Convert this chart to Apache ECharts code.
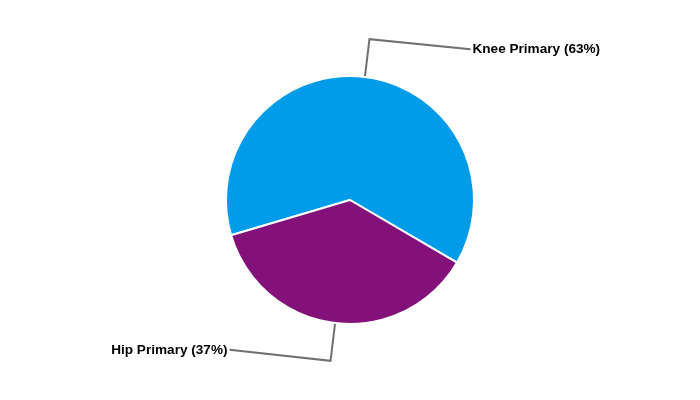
<!DOCTYPE html>
<html>
<head>
<meta charset="utf-8">
<script src="https://cdn.jsdelivr.net/npm/echarts@6/dist/echarts.min.js"></script>
<style>html,body{margin:0;padding:0;background:#fff}#c{width:700px;height:400px}</style>
</head>
<body>
<div id="c"></div>
<script>
const categories = ['Knee Primary', 'Hip Primary'];
const values = [63, 37];
const colors = ['#009CEA', '#84107A'];

const chart = echarts.init(document.getElementById('c'), null, {renderer: 'canvas'});
chart.setOption({
  animation: false,
  backgroundColor: '#ffffff',
  series: [{
    type: 'pie',
    center: [350, 200],
    radius: [0, 124],
    startAngle: 196.5,
    clockwise: true,
    data: categories.map((n, i) => ({name: n, value: values[i], itemStyle: {color: colors[i]}})),
    itemStyle: {borderColor: '#ffffff', borderWidth: 2},
    label: {
      show: true,
      formatter: '{b} ({d}%)',
      color: '#000',
      fontFamily: 'Liberation Sans, Arial, sans-serif',
      fontWeight: 'bold',
      fontSize: 13.6,
      distanceToLabelLine: 2
    },
    labelLine: {
      show: true,
      length: 38,
      length2: 101,
      lineStyle: {color: '#707070', width: 2}
    },
    labelLayout: function (params) {
      const pts = params.labelLinePoints;
      if (!pts) return {};
      const dy = params.dataIndex === 0 ? 10 : -11;
      return {
        dy: dy,
        labelLinePoints: [pts[0], pts[1], [pts[2][0], pts[2][1] + dy]]
      };
    },
    emphasis: {disabled: true}
  }]
});
</script>
</body>
</html>
